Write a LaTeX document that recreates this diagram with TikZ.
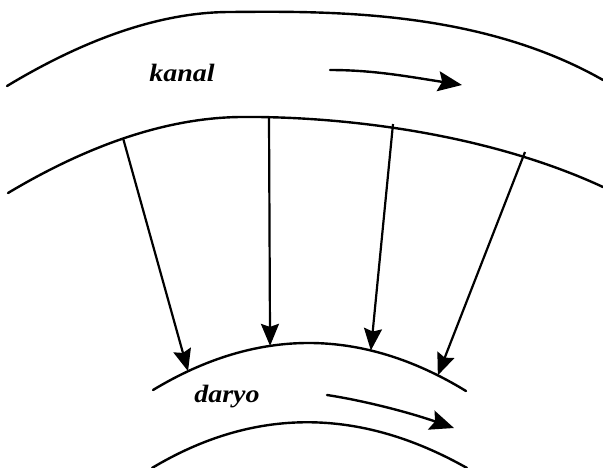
\documentclass[tikz,border=0pt]{standalone}
\usepackage{fontspec}
\setmainfont{Liberation Serif}
\usetikzlibrary{arrows.meta}
\tikzset{
  bank/.style={line width=2.4pt, line cap=round},
  seep/.style={line width=2.2pt, -{Stealth[length=22pt,width=18pt,inset=3pt]}},
  flow/.style={line width=2.4pt, line cap=round, -{Stealth[length=24pt,width=20pt,inset=4pt]}},
  lbl/.style={font=\fontsize{25}{25}\selectfont\bfseries\itshape, inner sep=0pt}
}
\begin{document}
\begin{tikzpicture}[x=1pt,y=-1pt]
\useasboundingbox (0,0) rectangle (603,467);
% kanal banks
\draw[bank] (7,86) .. controls (70,48) and (150,12) .. (230,12)
  .. controls (330,11) and (480,10) .. (603,80);
\draw[bank] (8,193) .. controls (80,150) and (160,118) .. (240,117)
  .. controls (330,116) and (480,130) .. (603,187);
% daryo banks
\draw[bank] (153,390) .. controls (257.3,327) and (361.7,327.3) .. (466,391)
  coordinate[pos=0.112] (t1) coordinate[pos=0.374] (t2)
  coordinate[pos=0.696] (t3) coordinate[pos=0.910] (t4);
\draw[bank] (152,468) .. controls (254,407) and (359,407) .. (467,468);
% seepage arrows
\coordinate (s1) at (123,138);
\coordinate (s2) at (269,117);
\coordinate (s3) at (393,124);
\coordinate (s4) at (525,152);
\draw[seep] (s1) -- (t1);
\draw[seep] (s2) -- (t2);
\draw[seep] (s3) -- (t3);
\draw[seep] (s4) -- (t4);
% flow arrows
\coordinate (k1) at (330,70);
\coordinate (k2) at (462,85);
\draw[flow] (k1) .. controls (372,70) and (405,76) .. (k2);
\coordinate (d1) at (327,395);
\coordinate (d2) at (454,428);
\draw[flow] (d1) .. controls (360,400) and (405,411) .. (d2);
% labels
\node[lbl, anchor=base] (kanal) at (182,81) {\scalebox{1.12}[1]{kanal}};
\node[lbl, anchor=base] (daryo) at (227,402) {\scalebox{1.12}[1]{daryo}};
\end{tikzpicture}
\end{document}
